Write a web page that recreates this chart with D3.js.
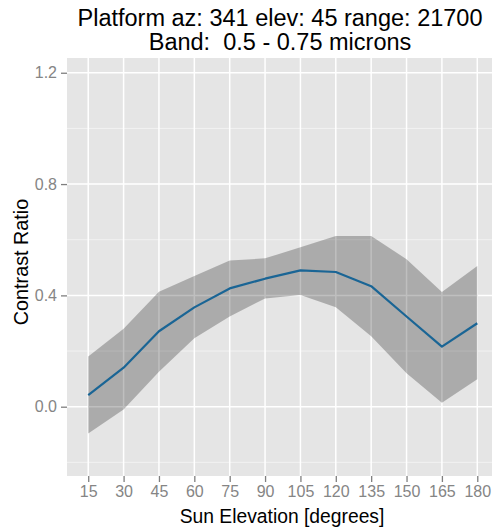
<!DOCTYPE html>
<html>
<head>
<meta charset="utf-8">
<script src="https://cdn.jsdelivr.net/npm/d3@7"></script>
<style>
  html, body { margin: 0; padding: 0; background: #fff; }
  svg { display: block; font-family: Arial, "Liberation Sans", sans-serif; }
</style>
</head>
<body>
<svg id="chart" width="492" height="529"></svg>
<script>
const sunElevation = [15, 30, 45, 60, 75, 90, 105, 120, 135, 150, 165, 180];
const contrastMean = [0.042, 0.140, 0.271, 0.357, 0.425, 0.460, 0.490, 0.484, 0.433, 0.324, 0.216, 0.300];
const contrastUpper = [0.180, 0.280, 0.413, 0.470, 0.525, 0.533, 0.573, 0.613, 0.613, 0.530, 0.412, 0.506];
const contrastLower = [-0.096, -0.010, 0.126, 0.246, 0.324, 0.389, 0.401, 0.357, 0.253, 0.120, 0.014, 0.099];
const yTicks = [0.0, 0.4, 0.8, 1.2];
const yMinor = [-0.2, 0.2, 0.6, 1.0];
const titleLines = ["Platform az: 341 elev: 45 range: 21700", "Band:  0.5 - 0.75 microns"];
const xTitle = "Sun Elevation [degrees]";
const yTitle = "Contrast Ratio";

const svg = d3.select("#chart");
const panel = { left: 67, top: 58, right: 498.5, bottom: 476 };

const x = d3.scalePoint()
  .domain(sunElevation.map(String))
  .range([panel.left, panel.right])
  .padding(0.6);

const y = d3.scaleLinear()
  .domain([-0.249, 1.253])
  .range([panel.bottom, panel.top]);

// panel background
svg.append("rect")
  .attr("x", panel.left).attr("y", panel.top)
  .attr("width", panel.right - panel.left).attr("height", panel.bottom - panel.top)
  .attr("fill", "#E5E5E5");

// minor gridlines
svg.append("g").selectAll("line").data(yMinor).join("line")
  .attr("x1", panel.left).attr("x2", panel.right)
  .attr("y1", d => y(d)).attr("y2", d => y(d))
  .attr("stroke", "#F2F2F2").attr("stroke-width", 1);

// major gridlines
svg.append("g").selectAll("line").data(yTicks).join("line")
  .attr("x1", panel.left).attr("x2", panel.right)
  .attr("y1", d => y(d)).attr("y2", d => y(d))
  .attr("stroke", "#FFFFFF").attr("stroke-width", 1.5);

svg.append("g").selectAll("line").data(sunElevation).join("line")
  .attr("x1", d => x(String(d))).attr("x2", d => x(String(d)))
  .attr("y1", panel.top).attr("y2", panel.bottom)
  .attr("stroke", "#FFFFFF").attr("stroke-width", 1.5);

const data = sunElevation.map((s, i) => ({
  s: String(s), m: contrastMean[i], lo: contrastLower[i], hi: contrastUpper[i]
}));

// ribbon
svg.append("path")
  .datum(data)
  .attr("d", d3.area().x(d => x(d.s)).y0(d => y(d.lo)).y1(d => y(d.hi)))
  .attr("fill", "#000000").attr("fill-opacity", 0.25);

// line
svg.append("path")
  .datum(data)
  .attr("d", d3.line().x(d => x(d.s)).y(d => y(d.m)))
  .attr("fill", "none").attr("stroke", "#1A6595").attr("stroke-width", 2.2)
  .attr("stroke-linejoin", "round");

// axes
const yAxis = d3.axisLeft(y).tickValues(yTicks).tickFormat(d3.format(".1f"))
  .tickSize(6).tickPadding(4);
const gy = svg.append("g").attr("transform", `translate(${panel.left},0)`).call(yAxis);
gy.select(".domain").remove();
gy.selectAll(".tick line").attr("stroke", "#7F7F7F").attr("stroke-width", 1.3);
gy.selectAll(".tick text").attr("fill", "#858585").attr("font-size", 16)
  .attr("font-family", "Arial, 'Liberation Sans', sans-serif");

const xAxis = d3.axisBottom(x).tickSize(6).tickPadding(4);
const gx = svg.append("g").attr("transform", `translate(0,${panel.bottom})`).call(xAxis);
gx.select(".domain").remove();
gx.selectAll(".tick line").attr("stroke", "#7F7F7F").attr("stroke-width", 1.3);
gx.selectAll(".tick text").attr("fill", "#858585").attr("font-size", 16)
  .attr("font-family", "Arial, 'Liberation Sans', sans-serif");

// axis titles
svg.append("text")
  .attr("x", 282).attr("y", 523)
  .attr("text-anchor", "middle").attr("font-size", 19.3).attr("fill", "#000")
  .text(xTitle);

svg.append("text")
  .attr("transform", `translate(28,262) rotate(-90)`)
  .attr("text-anchor", "middle").attr("font-size", 19.8).attr("fill", "#000")
  .text(yTitle);

// title
svg.append("g").selectAll("text").data(titleLines).join("text")
  .attr("x", 280).attr("y", (d, i) => 26 + i * 24)
  .attr("text-anchor", "middle").attr("font-size", 23.5).attr("fill", "#000")
  .style("white-space", "pre")
  .text(d => d);
</script>
</body>
</html>
